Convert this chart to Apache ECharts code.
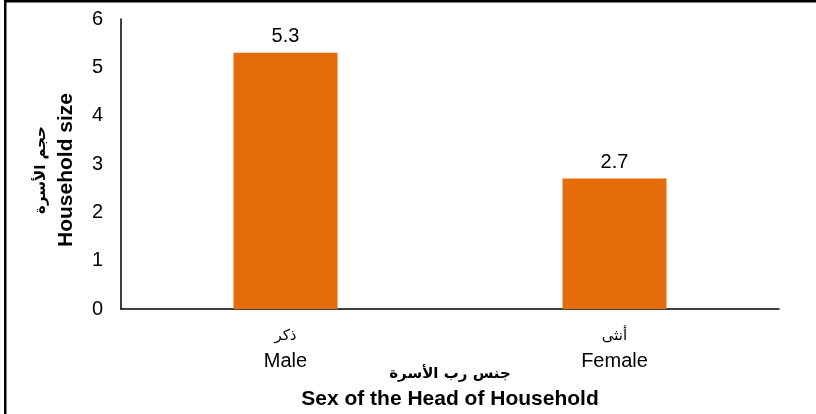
<!DOCTYPE html>
<html>
<head>
<meta charset="utf-8">
<script src="https://cdn.jsdelivr.net/npm/echarts@6/dist/echarts.min.js"></script>
<style>
html,body{margin:0;padding:0;background:#fff;}
#c{width:816px;height:414px;}
</style>
</head>
<body>
<div id="c"></div>
<script>
var categoriesAr = ['ذكر', 'أنثى'];
var categoriesEn = ['Male', 'Female'];
var values = [5.3, 2.7];
var yTicks = [0, 1, 2, 3, 4, 5, 6];
var xTitleAr = 'جنس رب الأسرة';
var xTitleEn = 'Sex of the Head of Household';
var yTitleAr = 'حجم الأسرة';
var yTitleEn = 'Household size';

var categories = categoriesEn.map(function (en, i) { return categoriesAr[i] + '\n' + en; });

var FONT = '"Liberation Sans", Arial, "DejaVu Sans", sans-serif';
var AFONT = '"DejaVu Sans", sans-serif';
var chart = echarts.init(document.getElementById('c'));
chart.setOption({
  animation: false,
  backgroundColor: '#fff',
  textStyle: { fontFamily: FONT },
  grid: { left: 121, right: 37, top: 19, bottom: 105, containLabel: false, outerBoundsMode: 'none' },
  graphic: [
    { type: 'rect', shape: { x: 4, y: 0, width: 812, height: 2.5 }, style: { fill: '#000' } },
    { type: 'rect', shape: { x: 4, y: 0, width: 2.5, height: 414 }, style: { fill: '#000' } }
  ],
  xAxis: {
    type: 'category',
    data: categories,
    axisLine: { show: true, lineStyle: { color: '#000', width: 1.5 } },
    axisTick: { show: false },
    axisLabel: {
      color: '#000', margin: 15,
      formatter: function (v) { var p = v.split('\n'); return '{ar|' + p[0] + '}\n{en|' + p[1] + '}'; },
      rich: {
        ar: { fontSize: 15, fontFamily: AFONT, lineHeight: 25, color: '#000' },
        en: { fontSize: 20, fontFamily: FONT, lineHeight: 25, color: '#000' }
      }
    },
    name: '{ar|' + xTitleAr + '}\n{en|' + xTitleEn + '}',
    nameLocation: 'middle',
    nameGap: 53,
    nameMoveOverlap: false,
    nameTextStyle: {
      color: '#000',
      rich: {
        ar: { fontSize: 15, fontWeight: 'bold', fontFamily: AFONT, lineHeight: 25, color: '#000' },
        en: { fontSize: 21, fontWeight: 'bold', fontFamily: FONT, lineHeight: 25, color: '#000' }
      }
    }
  },
  yAxis: {
    type: 'value',
    min: yTicks[0],
    max: yTicks[yTicks.length - 1],
    interval: 1,
    splitLine: { show: false },
    axisLine: { show: true, lineStyle: { color: '#000', width: 1.5 } },
    axisTick: { show: false },
    axisLabel: { color: '#000', fontSize: 20, fontFamily: FONT, margin: 18 },
    name: '{ar|' + yTitleAr + '}\n{en|' + yTitleEn + '}',
    nameLocation: 'middle',
    nameRotate: 90,
    nameGap: 42,
    nameMoveOverlap: false,
    nameTextStyle: {
      color: '#000', padding: [0, 12, 0, 0],
      rich: {
        ar: { fontSize: 15, fontWeight: 'bold', fontFamily: AFONT, lineHeight: 25, color: '#000' },
        en: { fontSize: 21, fontWeight: 'bold', fontFamily: FONT, lineHeight: 25, color: '#000' }
      }
    }
  },
  series: [{
    type: 'bar',
    data: values,
    barWidth: 104,
    itemStyle: { color: '#E46C0A' },
    label: { show: true, position: 'top', distance: 6, color: '#000', fontSize: 20, fontFamily: FONT,
      formatter: function (p) { return p.value.toFixed(1); } }
  }]
});
</script>
</body>
</html>
